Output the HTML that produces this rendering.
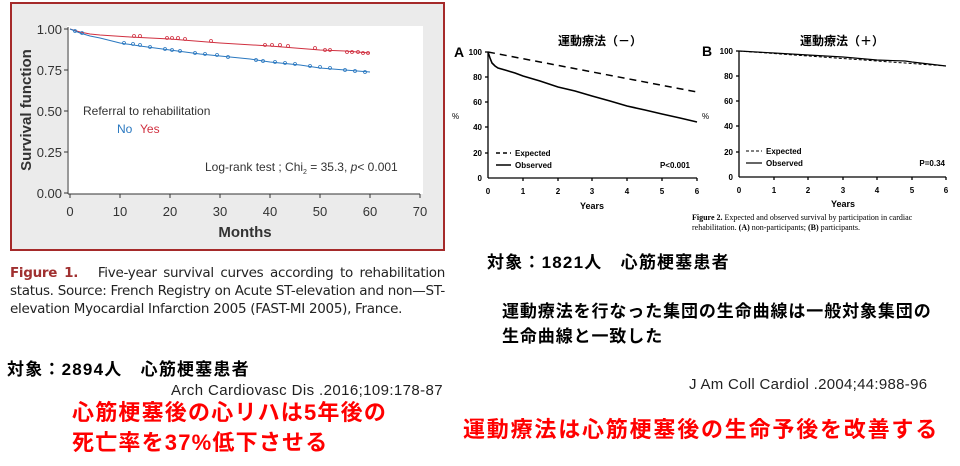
<!DOCTYPE html>
<html><head><meta charset="utf-8"><style>
body{margin:0;width:960px;height:466px;background:#fff;overflow:hidden;position:relative;font-family:"Liberation Sans","Noto Sans CJK JP",sans-serif}
.t{position:absolute;white-space:nowrap}
.b{font-weight:bold}
</style></head><body>
<svg width="960" height="466" style="position:absolute;left:0;top:0" font-family="Liberation Sans, sans-serif">
<rect x="11" y="3" width="433" height="247" fill="#ebebeb" stroke="#a52a2a" stroke-width="2"/>
<rect x="67" y="26" width="356" height="168" fill="#fff"/>
<line x1="68" y1="27" x2="68" y2="194" stroke="#333"/>
<line x1="68" y1="194" x2="420" y2="194" stroke="#333"/>
<g stroke="#333">
<line x1="64" y1="29" x2="68" y2="29"/><line x1="64" y1="70" x2="68" y2="70"/><line x1="64" y1="111" x2="68" y2="111"/><line x1="64" y1="152" x2="68" y2="152"/><line x1="64" y1="193" x2="68" y2="193"/>
<line x1="70" y1="194" x2="70" y2="198"/><line x1="120" y1="194" x2="120" y2="198"/><line x1="170" y1="194" x2="170" y2="198"/><line x1="220" y1="194" x2="220" y2="198"/><line x1="270" y1="194" x2="270" y2="198"/><line x1="320" y1="194" x2="320" y2="198"/><line x1="370" y1="194" x2="370" y2="198"/><line x1="420" y1="194" x2="420" y2="198"/>
</g>
<g font-size="13" fill="#333" text-anchor="end">
<text x="62" y="34">1.00</text><text x="62" y="75">0.75</text><text x="62" y="116">0.50</text><text x="62" y="157">0.25</text><text x="62" y="198">0.00</text>
</g>
<g font-size="13" fill="#333" text-anchor="middle">
<text x="70" y="216">0</text><text x="120" y="216">10</text><text x="170" y="216">20</text><text x="220" y="216">30</text><text x="270" y="216">40</text><text x="320" y="216">50</text><text x="370" y="216">60</text><text x="420" y="216">70</text>
</g>
<text x="245" y="237" font-size="15" font-weight="bold" fill="#333" text-anchor="middle">Months</text>
<text transform="translate(31,110) rotate(-90)" font-size="15" font-weight="bold" fill="#333" text-anchor="middle">Survival function</text>
<polyline fill="none" stroke="#d03040" stroke-width="1" points="70,29 80,32 90,34 100,35 130,37 170,39 220,43 270,46 320,50 345,51 370,53"/>
<polyline fill="none" stroke="#2a78c0" stroke-width="1" points="70,29 75,31 80,33 90,36 100,38 120,43 140,46 170,50 200,54 220,56 250,59 270,62 300,65 320,68 345,70 370,72"/>
<g fill="none" stroke="#d03040" stroke-width="0.8">
<circle cx="134" cy="36" r="1.5"/><circle cx="140" cy="36" r="1.5"/><circle cx="167" cy="38" r="1.5"/><circle cx="172" cy="38" r="1.5"/><circle cx="178" cy="38" r="1.5"/><circle cx="185" cy="39" r="1.5"/><circle cx="211" cy="41" r="1.5"/><circle cx="265" cy="45" r="1.5"/><circle cx="272" cy="45" r="1.5"/><circle cx="280" cy="45" r="1.5"/><circle cx="288" cy="46" r="1.5"/><circle cx="315" cy="48" r="1.5"/><circle cx="325" cy="50" r="1.5"/><circle cx="330" cy="50" r="1.5"/><circle cx="347" cy="52" r="1.5"/><circle cx="352" cy="52" r="1.5"/><circle cx="358" cy="52" r="1.5"/><circle cx="363" cy="53" r="1.5"/><circle cx="368" cy="53" r="1.5"/>
</g>
<g fill="none" stroke="#2a78c0" stroke-width="0.8">
<circle cx="75" cy="31" r="1.5"/><circle cx="82" cy="33" r="1.5"/><circle cx="124" cy="43" r="1.5"/><circle cx="133" cy="44" r="1.5"/><circle cx="140" cy="45" r="1.5"/><circle cx="150" cy="47" r="1.5"/><circle cx="165" cy="49" r="1.5"/><circle cx="172" cy="50" r="1.5"/><circle cx="180" cy="51" r="1.5"/><circle cx="195" cy="53" r="1.5"/><circle cx="205" cy="54" r="1.5"/><circle cx="217" cy="55" r="1.5"/><circle cx="228" cy="57" r="1.5"/><circle cx="256" cy="60" r="1.5"/><circle cx="263" cy="61" r="1.5"/><circle cx="275" cy="62" r="1.5"/><circle cx="285" cy="63" r="1.5"/><circle cx="295" cy="64" r="1.5"/><circle cx="310" cy="66" r="1.5"/><circle cx="320" cy="67" r="1.5"/><circle cx="330" cy="68" r="1.5"/><circle cx="345" cy="70" r="1.5"/><circle cx="355" cy="71" r="1.5"/><circle cx="365" cy="72" r="1.5"/>
</g>
<text x="83" y="115" font-size="12" fill="#333">Referral to rehabilitation</text>
<text x="117" y="133" font-size="12" fill="#2a78c0">No</text>
<text x="140" y="133" font-size="12" fill="#d03040">Yes</text>
<text x="205" y="171" font-size="12" fill="#333">Log-rank test ; Chi<tspan font-size="7" dy="3">2</tspan><tspan dy="-3"> = 35.3, </tspan><tspan font-style="italic">p</tspan>&lt; 0.001</text>

<!-- Chart A -->
<g stroke="#000" stroke-width="1.3">
<line x1="488" y1="52" x2="488" y2="178"/><line x1="488" y1="178" x2="697" y2="178"/>
<line x1="485" y1="52" x2="488" y2="52"/><line x1="485" y1="77" x2="488" y2="77"/><line x1="485" y1="102" x2="488" y2="102"/><line x1="485" y1="127" x2="488" y2="127"/><line x1="485" y1="153" x2="488" y2="153"/>
<line x1="523" y1="178" x2="523" y2="181"/><line x1="558" y1="178" x2="558" y2="181"/><line x1="592" y1="178" x2="592" y2="181"/><line x1="627" y1="178" x2="627" y2="181"/><line x1="662" y1="178" x2="662" y2="181"/><line x1="697" y1="178" x2="697" y2="181"/>
</g>
<line x1="488" y1="52" x2="697" y2="92" stroke="#000" stroke-width="1.5" stroke-dasharray="7,5"/>
<polyline fill="none" stroke="#000" stroke-width="1.6" points="488,52 490,58 492,63 495,66 498,68 505,70 515,73 523,76 540,81 558,87 575,91 592,96 610,101 627,106 645,110 662,114 680,118 697,122"/>
<g font-size="8" font-weight="bold" text-anchor="end"><text x="482" y="55">100</text><text x="482" y="80">80</text><text x="482" y="105">60</text><text x="482" y="130">40</text><text x="482" y="156">20</text><text x="482" y="181">0</text></g>
<g font-size="8" font-weight="bold" text-anchor="middle"><text x="488" y="194">0</text><text x="523" y="194">1</text><text x="558" y="194">2</text><text x="592" y="194">3</text><text x="627" y="194">4</text><text x="662" y="194">5</text><text x="697" y="194">6</text></g>
<text x="592" y="209" font-size="9" font-weight="bold" text-anchor="middle">Years</text>
<text x="452" y="119" font-size="8">%</text>
<text x="454" y="57" font-size="14" font-weight="bold">A</text>
<line x1="496" y1="153" x2="511" y2="153" stroke="#000" stroke-width="1.5" stroke-dasharray="4,3"/>
<line x1="496" y1="165" x2="511" y2="165" stroke="#000" stroke-width="1.5"/>
<text x="515" y="156" font-size="8" font-weight="bold">Expected</text>
<text x="515" y="168" font-size="8" font-weight="bold">Observed</text>
<text x="690" y="168" font-size="8" font-weight="bold" text-anchor="end">P&lt;0.001</text>

<!-- Chart B -->
<g stroke="#000" stroke-width="1.3">
<line x1="739" y1="51" x2="739" y2="177"/><line x1="739" y1="177" x2="946" y2="177"/>
<line x1="736" y1="51" x2="739" y2="51"/><line x1="736" y1="76" x2="739" y2="76"/><line x1="736" y1="101" x2="739" y2="101"/><line x1="736" y1="126" x2="739" y2="126"/><line x1="736" y1="152" x2="739" y2="152"/>
<line x1="774" y1="177" x2="774" y2="180"/><line x1="808" y1="177" x2="808" y2="180"/><line x1="843" y1="177" x2="843" y2="180"/><line x1="877" y1="177" x2="877" y2="180"/><line x1="912" y1="177" x2="912" y2="180"/><line x1="946" y1="177" x2="946" y2="180"/>
</g>
<line x1="739" y1="51" x2="946" y2="66" stroke="#000" stroke-width="1" stroke-dasharray="3,2"/>
<polyline fill="none" stroke="#000" stroke-width="1.2" points="739,51 774,53 808,55 843,57 877,60 905,61 912,62 946,66"/>
<g font-size="8" font-weight="bold" text-anchor="end"><text x="733" y="54">100</text><text x="733" y="79">80</text><text x="733" y="104">60</text><text x="733" y="129">40</text><text x="733" y="155">20</text><text x="733" y="180">0</text></g>
<g font-size="8" font-weight="bold" text-anchor="middle"><text x="739" y="193">0</text><text x="774" y="193">1</text><text x="808" y="193">2</text><text x="843" y="193">3</text><text x="877" y="193">4</text><text x="912" y="193">5</text><text x="946" y="193">6</text></g>
<text x="843" y="207" font-size="9" font-weight="bold" text-anchor="middle">Years</text>
<text x="702" y="119" font-size="8">%</text>
<text x="702" y="56" font-size="14" font-weight="bold">B</text>
<line x1="746" y1="151" x2="762" y2="151" stroke="#000" stroke-width="1" stroke-dasharray="3,2"/>
<line x1="746" y1="163" x2="762" y2="163" stroke="#000" stroke-width="1.2"/>
<text x="766" y="154" font-size="8" font-weight="bold">Expected</text>
<text x="766" y="166" font-size="8" font-weight="bold">Observed</text>
<text x="945" y="166" font-size="8" font-weight="bold" text-anchor="end">P=0.34</text>
</svg>
<div class="t b" style="left:558px;top:32px;font-size:12px">運動療法（－）</div>
<div class="t b" style="left:800px;top:32px;font-size:12px">運動療法（＋）</div>
<div class="t" style="left:692px;top:213px;font-size:8px;font-family:'Liberation Serif',serif;line-height:10px"><b>Figure 2.</b> Expected and observed survival by participation in cardiac<br>rehabilitation. <b>(A)</b> non-participants; <b>(B)</b> participants.</div>
<div class="t" style="left:10px;top:264px;width:435px;font-size:13.5px;line-height:18px;color:#222;white-space:normal;text-align:justify;font-family:'DejaVu Sans',sans-serif;letter-spacing:-0.3px"><b style="color:#a03030">Figure 1.</b>&nbsp;&nbsp; Five-year survival curves according to rehabilitation status. Source: French Registry on Acute ST-elevation and non—ST-elevation Myocardial Infarction 2005 (FAST-MI 2005), France.</div>
<div class="t b" style="left:7px;top:355px;font-size:17px;letter-spacing:1.2px">対象：2894人　心筋梗塞患者</div>
<div class="t" style="left:171px;top:382px;font-size:15px;color:#222;letter-spacing:0.4px">Arch Cardiovasc Dis .2016;109:178-87</div>
<div class="t b" style="left:72px;top:398px;font-size:22px;color:#f00;line-height:30px;letter-spacing:1.2px">心筋梗塞後の心リハは5年後の<br>死亡率を37%低下させる</div>
<div class="t b" style="left:487px;top:248px;font-size:17px;letter-spacing:1.2px">対象：1821人　心筋梗塞患者</div>
<div class="t b" style="left:502px;top:299px;font-size:17px;line-height:25px;letter-spacing:0.9px">運動療法を行なった集団の生命曲線は一般対象集団の<br>生命曲線と一致した</div>
<div class="t" style="left:689px;top:376px;font-size:15px;color:#222;letter-spacing:0.3px">J Am Coll Cardiol .2004;44:988-96</div>
<div class="t b" style="left:463px;top:412px;font-size:22px;color:#f00;letter-spacing:1.8px">運動療法は心筋梗塞後の生命予後を改善する</div>
</body></html>
